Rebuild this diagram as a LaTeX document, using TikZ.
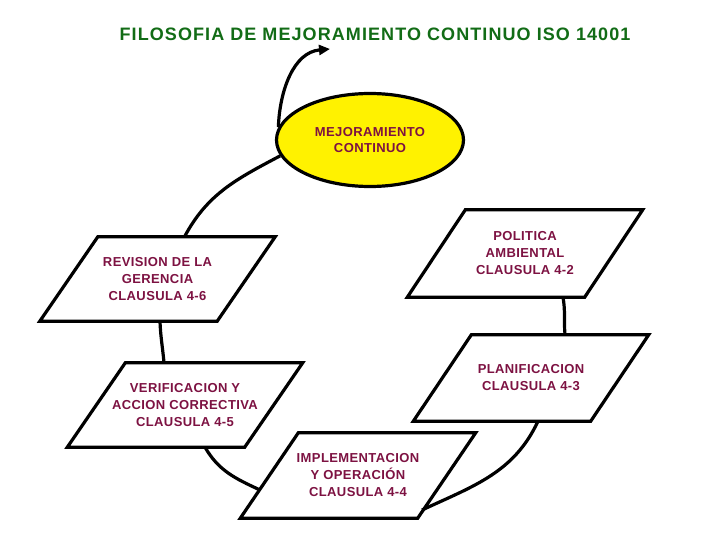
\documentclass[tikz,border=0pt]{standalone}
\usepackage{fontspec}
\setmainfont{Liberation Sans}
\newfontfamily\boxfont{Liberation Sans}[LetterSpace=3]
\newfontfamily\titlefont{Liberation Sans}[LetterSpace=6]
\usetikzlibrary{calc,shapes.geometric,arrows.meta}
\definecolor{titlegreen}{RGB}{18,108,22}
\definecolor{boxtext}{RGB}{125,18,66}
\begin{document}
\begin{tikzpicture}[x=1pt,y=-1pt,
  pline/.style={line width=3.2pt, line join=miter},
  conn/.style={line width=3.2pt},
  pbox/.style={rectangle, inner sep=0pt, minimum width=235pt, align=center,
    text=boxtext, font=\boxfont\bfseries\fontsize{13}{17}\selectfont}]
\useasboundingbox[fill=white] (0,0) rectangle (720,540);
\node[font=\titlefont\bfseries\fontsize{18}{20}\selectfont, text=titlegreen] (title) at (375,34.5) {FILOSOFIA DE MEJORAMIENTO CONTINUO ISO 14001};
\node[ellipse, draw, fill=yellow, line width=3.2pt, minimum width=187pt, minimum height=93pt,
  inner sep=0pt, align=center, text=boxtext, font=\boxfont\bfseries\fontsize{13}{16}\selectfont] (ell) at (370,140) {MEJORAMIENTO\\CONTINUO};
\node[pbox, minimum height=87pt] (pol) at (525,253.5) {POLITICA\\AMBIENTAL\\CLAUSULA 4-2};
\node[pbox, minimum height=84pt] (rev) at (157.5,279) {REVISION DE LA\\GERENCIA\\CLAUSULA 4-6};
\node[pbox, minimum height=86pt] (pla) at (531,378) {PLANIFICACION\\CLAUSULA 4-3};
\node[pbox, minimum height=84pt] (ver) at (185,405) {VERIFICACION Y\\ACCION CORRECTIVA\\CLAUSULA 4-5};
\node[pbox, minimum height=85pt] (imp) at (358,475.5) {IMPLEMENTACION\\Y OPERACIÓN\\CLAUSULA 4-4};
\foreach \n in {pol,rev,pla,ver,imp}
  \draw[pline] ($(\n.north west)+(58,0)$) -- (\n.north east) -- ($(\n.south east)+(-58,0)$) -- (\n.south west) -- cycle;
\coordinate (arrowend) at (330,49);
\draw[conn, -{Triangle[length=11pt,width=10pt]}] (ell.172) to[out=88,in=185] (arrowend);
\draw[conn] (ell.190) to[out=208,in=62] ($(rev.north)+(27,0)$);
\draw[conn] ($(pol.south)+(38,0)$) to[out=-80,in=95] ($(pla.north)+(34,0)$);
\draw[conn] ($(pla.south)+(7,0)$) to[out=245,in=25] ($(imp)+(64,34.5)$);
\draw[conn] ($(ver.south)+(20,0)$) to[out=-60,in=155] ($(imp)+(-98,14.5)$);
\draw[conn] ($(rev.south)+(2.5,0)$) to[out=-88,in=95] ($(ver.north)+(-21,0)$);
\end{tikzpicture}
\end{document}
